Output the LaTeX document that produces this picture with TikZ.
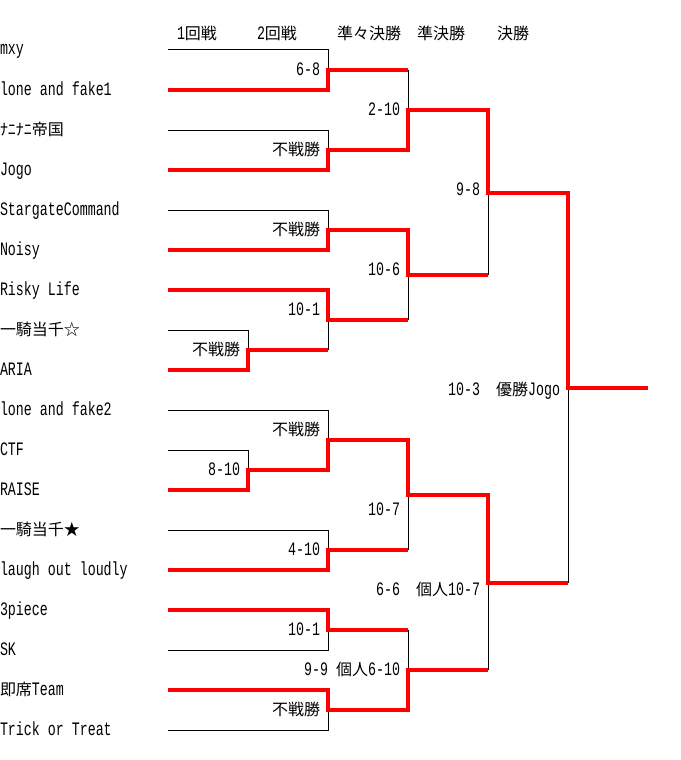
\documentclass[tikz,border=0pt]{standalone}
\usepackage{fontspec}
\setmonofont[FakeStretch=0.7]{Liberation Mono}
\newfontfamily\jpf{Noto Sans CJK JP}
\newcommand\J[1]{{\jpf\fontsize{16pt}{16pt}\selectfont #1}}
\tikzset{
  every node/.style={inner sep=0pt, outer sep=0pt,
    font=\ttfamily\fontsize{19pt}{19pt}\selectfont},
  team/.style={anchor=base west},
  score/.style={anchor=base east},
  head/.style={anchor=base west},
  lose/.style={draw=black, line width=1pt},
  win/.style={draw=red, line width=4pt, line join=miter},
}
\begin{document}
\begin{tikzpicture}[x=1pt, y=-1pt]
\path[use as bounding box, fill=white] (0,0) rectangle (680,760);

% headers
\node[head] (h1) at (177,40) {1\J{回戦}};
\node[head] (h2) at (257,40) {2\J{回戦}};
\node[head] (h3) at (337,40) {\J{準々決勝}};
\node[head] (h4) at (417,40) {\J{準決勝}};
\node[head] (h5) at (497,40) {\J{決勝}};

% team names
\node[team] (t0)  at (0,55)  {mxy};
\node[team] (t1)  at (0,95)  {lone and fake1};
\node[team] (t2)  at (0,135) {\J{ﾅﾆﾅﾆ帝国}};
\node[team] (t3)  at (0,175) {Jogo};
\node[team] (t4)  at (0,215) {StargateCommand};
\node[team] (t5)  at (0,255) {Noisy};
\node[team] (t6)  at (0,295) {Risky Life};
\node[team] (t7)  at (0,335) {\J{一騎当千☆}};
\node[team] (t8)  at (0,375) {ARIA};
\node[team] (t9)  at (0,415) {lone and fake2};
\node[team] (t10) at (0,455) {CTF};
\node[team] (t11) at (0,495) {RAISE};
\node[team] (t12) at (0,535) {\J{一騎当千★}};
\node[team] (t13) at (0,575) {laugh out loudly};
\node[team] (t14) at (0,615) {3piece};
\node[team] (t15) at (0,655) {SK};
\node[team] (t16) at (0,695) {\J{即席}Team};
\node[team] (t17) at (0,735) {Trick or Treat};

% line starts
\foreach \k in {0,...,17} { \coordinate (s\k) at (168,50+40*\k); }

% junctions
\coordinate (jA)  at (328,70);
\coordinate (jB)  at (328,150);
\coordinate (jC)  at (328,230);
\coordinate (jD1) at (248,350);
\coordinate (jD)  at (328,320);
\coordinate (jE1) at (248,470);
\coordinate (jE)  at (328,440);
\coordinate (jF)  at (328,550);
\coordinate (jG)  at (328,630);
\coordinate (jH)  at (328,710);
\coordinate (q1)  at (408,110);
\coordinate (q2)  at (408,275);
\coordinate (q3)  at (408,495);
\coordinate (q4)  at (408,670);
\coordinate (f1)  at (488,192.5);
\coordinate (f2)  at (488,582.5);
\coordinate (ch)  at (568,387.5);
\coordinate (fin) at (648,387.5);

% losing (black) lines
\draw[lose] (s0) -| (jA);
\draw[lose] (s2) -| (jB);
\draw[lose] (s4) -| (jC);
\draw[lose] (s7) -| (jD1);
\draw[lose] (s9) -| (jE);
\draw[lose] (s10) -| (jE1);
\draw[lose] (s12) -| (jF);
\draw[lose] (s15) -| (jG);
\draw[lose] (s17) -| (jH);
\draw[lose] (jA -| q1) -- (q1);
\draw[lose] (jD1 -| jD) -- (jD);
\draw[lose] (jD -| q2) -- (q2);
\draw[lose] (q2 -| f1) -- (f1);
\draw[lose] (jF -| q3) -- (q3);
\draw[lose] (jG -| q4) -- (q4);
\draw[lose] (q4 -| f2) -- (f2);
\draw[lose] (f2 -| ch) -- (ch);

% winning (red) lines
\draw[win] (s1) -| (jA) -- (jA -| q1);
\draw[win] (s3) -| (jB) -| (q1) -| (f1) -| (ch) -- (fin);
\draw[win] (s5) -| (jC) -| (q2) -- (q2 -| f1);
\draw[win] (s6) -| (jD) -- (jD -| q2);
\draw[win] (s8) -| (jD1) -- (jD1 -| jD);
\draw[win] (s11) -| (jE1) -| (jE) -| (q3) -| (f2) -- (f2 -| ch);
\draw[win] (s13) -| (jF) -- (jF -| q3);
\draw[win] (s14) -| (jG) -- (jG -| q4);
\draw[win] (s16) -| (jH) -| (q4) -- (q4 -| f2);

% scores
\node[score] (c0)  at (320,75)  {6-8};
\node[score] (c1)  at (400,115) {2-10};
\node[score] (c2)  at (320,155) {\J{不戦勝}};
\node[score] (c3)  at (480,195) {9-8};
\node[score] (c4)  at (320,235) {\J{不戦勝}};
\node[score] (c5)  at (400,275) {10-6};
\node[score] (c6)  at (320,315) {10-1};
\node[score] (c7)  at (240,355) {\J{不戦勝}};
\node[score] (c8)  at (560,395) {10-3\J{　優勝}Jogo};
\node[score] (c9)  at (320,435) {\J{不戦勝}};
\node[score] (c10) at (240,475) {8-10};
\node[score] (c11) at (400,515) {10-7};
\node[score] (c12) at (320,555) {4-10};
\node[score] (c13) at (480,595) {6-6\J{　個人}10-7};
\node[score] (c14) at (320,635) {10-1};
\node[score] (c15) at (400,675) {9-9 \J{個人}6-10};
\node[score] (c16) at (320,715) {\J{不戦勝}};
\end{tikzpicture}
\end{document}
